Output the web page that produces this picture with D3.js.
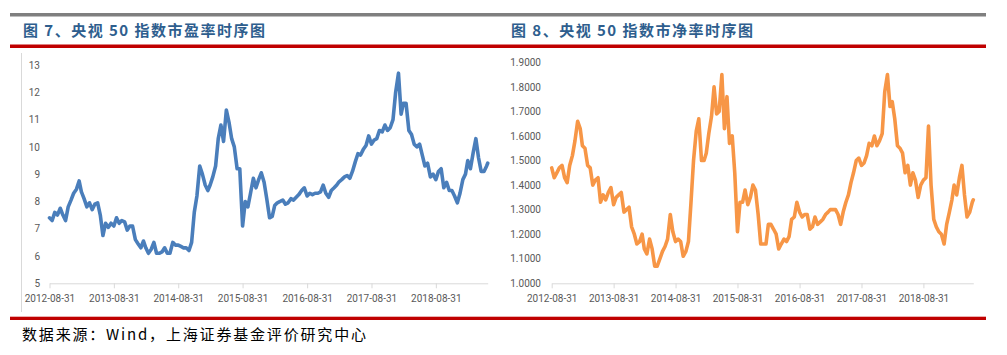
<!DOCTYPE html>
<html><head><meta charset="utf-8">
<script src="https://cdn.jsdelivr.net/npm/d3@7"></script>
<style>body{margin:0;background:#fff} svg{display:block}</style>
</head><body>
<svg id="c" width="1007" height="355"></svg>
<script>
// ---------- data ----------
const dates = [
"2012-08-31","2012-09-15","2012-09-30","2012-10-15","2012-10-31","2012-11-15","2012-11-30","2012-12-15","2012-12-31",
"2013-01-15","2013-01-31","2013-02-15","2013-02-28","2013-03-15","2013-03-31","2013-04-15","2013-04-30","2013-05-15","2013-05-31","2013-06-15","2013-06-30","2013-07-15","2013-07-31","2013-08-15","2013-08-31","2013-09-15","2013-09-30","2013-10-15","2013-10-31","2013-11-15","2013-11-30","2013-12-15","2013-12-31",
"2014-01-15","2014-01-31","2014-02-15","2014-02-28","2014-03-15","2014-03-31","2014-04-15","2014-04-30","2014-05-15","2014-05-31","2014-06-15","2014-06-30","2014-07-15","2014-07-31","2014-08-15","2014-08-31","2014-09-15","2014-09-30","2014-10-15","2014-10-31","2014-11-15","2014-11-30","2014-12-15","2014-12-31",
"2015-01-15","2015-01-31","2015-02-15","2015-02-28","2015-03-15","2015-03-31","2015-04-15","2015-04-30","2015-05-15","2015-05-31","2015-06-15","2015-06-30","2015-07-15","2015-07-31","2015-08-15","2015-08-31","2015-09-15","2015-09-30","2015-10-15","2015-10-31","2015-11-15","2015-11-30","2015-12-15","2015-12-31",
"2016-01-15","2016-01-31","2016-02-15","2016-02-29","2016-03-15","2016-03-31","2016-04-15","2016-04-30","2016-05-15","2016-05-31","2016-06-15","2016-06-30","2016-07-15","2016-07-31","2016-08-15","2016-08-31","2016-09-15","2016-09-30","2016-10-15","2016-10-31","2016-11-15","2016-11-30","2016-12-15","2016-12-31",
"2017-01-15","2017-01-31","2017-02-15","2017-02-28","2017-03-15","2017-03-31","2017-04-15","2017-04-30","2017-05-15","2017-05-31","2017-06-15","2017-06-30","2017-07-15","2017-07-31","2017-08-15","2017-08-31","2017-09-15","2017-09-30","2017-10-15","2017-10-31","2017-11-15","2017-11-30","2017-12-15","2017-12-31",
"2018-01-15","2018-01-31","2018-02-15","2018-02-28","2018-03-15","2018-03-31","2018-04-15","2018-04-30","2018-05-15","2018-05-31","2018-06-15","2018-06-30","2018-07-15","2018-07-31","2018-08-15","2018-08-31","2018-09-15","2018-09-30","2018-10-15","2018-10-31","2018-11-15","2018-11-30","2018-12-15","2018-12-31",
"2019-01-15","2019-01-31","2019-02-15","2019-02-28","2019-03-15","2019-03-31","2019-04-15","2019-04-30","2019-05-15","2019-05-31","2019-06-15","2019-06-21"
];

const peValues = [
7.4, 7.3, 7.6, 7.5, 7.75, 7.5, 7.3, 7.8, 8.05, 8.3,
8.45, 8.75, 8.35, 8.1, 7.8, 7.95, 7.7, 7.9, 7.95, 7.5,
6.75, 7.2, 7.05, 7.2, 7.1, 7.4, 7.2, 7.3, 7.25, 6.95,
7.1, 7.1, 6.6, 6.45, 6.3, 6.55, 6.3, 6.1, 6.25, 6.5,
6.1, 6.1, 6.15, 6.3, 6.1, 6.1, 6.5, 6.4, 6.4, 6.35,
6.3, 6.3, 6.2, 6.5, 7.6, 8.2, 9.3, 9.0, 8.6, 8.4,
8.6, 8.9, 9.3, 10.3, 10.8, 10.2, 11.35, 10.9, 10.3, 10.0,
9.2, 9.2, 7.1, 8.0, 7.8, 8.3, 8.85, 8.5, 8.8, 9.05,
8.7, 8.1, 7.4, 7.45, 7.85, 7.95, 8.0, 8.05, 7.9, 7.95,
8.1, 8.05, 8.15, 8.25, 8.4, 8.5, 8.2, 8.3, 8.25, 8.3,
8.3, 8.35, 8.6, 8.3, 8.15, 8.4, 8.5, 8.6, 8.72, 8.8,
8.9, 8.95, 8.85, 9.1, 9.45, 9.75, 9.7, 9.9, 10.05, 10.4,
10.1, 10.25, 10.3, 10.6, 10.55, 10.8, 10.6, 10.7, 11.0, 12.0,
12.7, 11.2, 11.6, 11.6, 10.6, 10.45, 10.1, 10.0, 10.1, 9.7,
9.3, 9.4, 8.9, 9.0, 8.8, 9.1, 9.2, 8.5, 8.7, 8.4,
8.4, 8.2, 7.95, 8.3, 8.8, 9.0, 9.5, 9.2, 9.8, 10.3,
9.6, 9.1, 9.1, 9.3, 9.4
];

const pbValues = [
1.47, 1.43, 1.45, 1.47, 1.48, 1.43, 1.41, 1.48, 1.52, 1.58,
1.66, 1.63, 1.56, 1.55, 1.48, 1.47, 1.40, 1.42, 1.43, 1.33,
1.36, 1.34, 1.37, 1.39, 1.32, 1.35, 1.36, 1.37, 1.29, 1.30,
1.31, 1.23, 1.20, 1.16, 1.17, 1.20, 1.14, 1.12, 1.18, 1.14,
1.07, 1.07, 1.10, 1.13, 1.15, 1.18, 1.28, 1.21, 1.17, 1.18,
1.17, 1.11, 1.13, 1.17, 1.33, 1.50, 1.62, 1.67, 1.50, 1.50,
1.53, 1.61, 1.68, 1.80, 1.69, 1.70, 1.85, 1.63, 1.76, 1.57,
1.60, 1.45, 1.21, 1.33, 1.33, 1.38, 1.32, 1.35, 1.40, 1.38,
1.28, 1.16, 1.16, 1.16, 1.24, 1.24, 1.22, 1.20, 1.14, 1.16,
1.18, 1.17, 1.19, 1.26, 1.27, 1.33, 1.29, 1.27, 1.28, 1.28,
1.22, 1.23, 1.27, 1.24, 1.25, 1.26, 1.28, 1.29, 1.30, 1.30,
1.30, 1.28, 1.24, 1.29, 1.33, 1.36, 1.41, 1.45, 1.50, 1.51,
1.48, 1.49, 1.52, 1.57, 1.56, 1.60, 1.56, 1.58, 1.61, 1.78,
1.85, 1.72, 1.74, 1.67, 1.56, 1.55, 1.53, 1.45, 1.48, 1.40,
1.45, 1.42, 1.35, 1.40, 1.42, 1.43, 1.64, 1.40, 1.26, 1.23,
1.21, 1.20, 1.16, 1.24, 1.29, 1.34, 1.40, 1.36, 1.43, 1.48,
1.36, 1.27, 1.29, 1.33, 1.34
];

const xTickLabels = ["2012-08-31","2013-08-31","2014-08-31","2015-08-31","2016-08-31","2017-08-31","2018-08-31"];
const axisEndDate = "2019-06-21";
const peTicks = [5, 6, 7, 8, 9, 10, 11, 12, 13];
const pbTicks = [1.0, 1.1, 1.2, 1.3, 1.4, 1.5, 1.6, 1.7, 1.8, 1.9];
const titles = ["图 7、央视 50 指数市盈率时序图", "图 8、央视 50 指数市净率时序图"];
const sourceText = "数据来源：Wind，上海证券基金评价研究中心";

// ---------- drawing ----------
const parse = d3.timeParse("%Y-%m-%d");
const fmt = d3.timeFormat("%Y-%m-%d");
const svg = d3.select("#c");

// header / footer bars
svg.append("rect").attr("x", 10).attr("y", 13).attr("width", 976).attr("height", 3.5).attr("fill", "#7F7F7F");
svg.append("rect").attr("x", 10).attr("y", 44.5).attr("width", 976).attr("height", 3.5).attr("fill", "#C00000");
svg.append("rect").attr("x", 10).attr("y", 316.7).attr("width", 976).attr("height", 3.3).attr("fill", "#C00000");
svg.append("line").attr("x1", 21.5).attr("x2", 21.5).attr("y1", 53).attr("y2", 312)
  .attr("stroke", "#D9D9D9").attr("stroke-width", 1);

const titleX = [23, 511];
titles.forEach((t, i) => {
  svg.append("text").attr("x", titleX[i]).attr("y", 36)
    .attr("font-family", "'Noto Sans CJK SC', sans-serif").attr("font-weight", "bold")
    .attr("font-size", 15).attr("fill", "#2E5E8E")
    .attr("textLength", 242).attr("lengthAdjust", "spacing")
    .text(t);
});

svg.append("text").attr("x", 22).attr("y", 340)
  .attr("font-family", "'Noto Sans CJK SC', sans-serif")
  .attr("font-size", 15).attr("fill", "#000")
  .attr("textLength", 344).attr("lengthAdjust", "spacing")
  .text(sourceText);

const series = dates.map(parse);
const xDomain = [parse(xTickLabels[0]), parse(axisEndDate)];

function drawChart(cfg) {
  const x = d3.scaleTime().domain(xDomain).range(cfg.xRange);
  const y = d3.scaleLinear().domain(cfg.yDomain).range(cfg.yRange);
  const g = svg.append("g");

  const xAxis = d3.axisBottom(x)
    .tickValues(xTickLabels.map(parse))
    .tickFormat(fmt)
    .tickSize(5).tickSizeOuter(0).tickPadding(7);
  const xa = g.append("g").attr("transform", `translate(0,${cfg.yRange[0]})`).call(xAxis);
  xa.select(".domain").attr("stroke", "#D9D9D9");
  xa.selectAll(".tick line").attr("stroke", "#D9D9D9");
  xa.selectAll(".tick text").attr("fill", "#595959")
    .attr("font-family", "Roboto, sans-serif").attr("font-size", 10);

  const yAxis = d3.axisLeft(y).tickValues(cfg.ticks).tickFormat(cfg.fmt).tickSize(0).tickPadding(0);
  const ya = g.append("g").attr("transform", `translate(${cfg.labelX},0)`).call(yAxis);
  ya.select(".domain").remove();
  ya.selectAll(".tick text").attr("fill", "#595959")
    .attr("font-family", "Roboto, sans-serif").attr("font-size", 10);

  const line = d3.line().x((d, i) => x(series[i])).y(d => y(d));
  g.append("path").datum(cfg.values)
    .attr("d", line).attr("fill", "none")
    .attr("stroke", cfg.color).attr("stroke-width", 3.6)
    .attr("stroke-linejoin", "round").attr("stroke-linecap", "round");
}

drawChart({
  xRange: [49.5, 487.7], yDomain: [5, 13], yRange: [283.3, 65],
  ticks: peTicks, fmt: d3.format("d"), labelX: 40,
  values: peValues, color: "#4A7EBB"
});
drawChart({
  xRange: [551.7, 973.3], yDomain: [1.0, 1.9], yRange: [283.3, 62.3],
  ticks: pbTicks, fmt: d3.format(".4f"), labelX: 541,
  values: pbValues, color: "#F79646"
});
</script>
</body></html>
